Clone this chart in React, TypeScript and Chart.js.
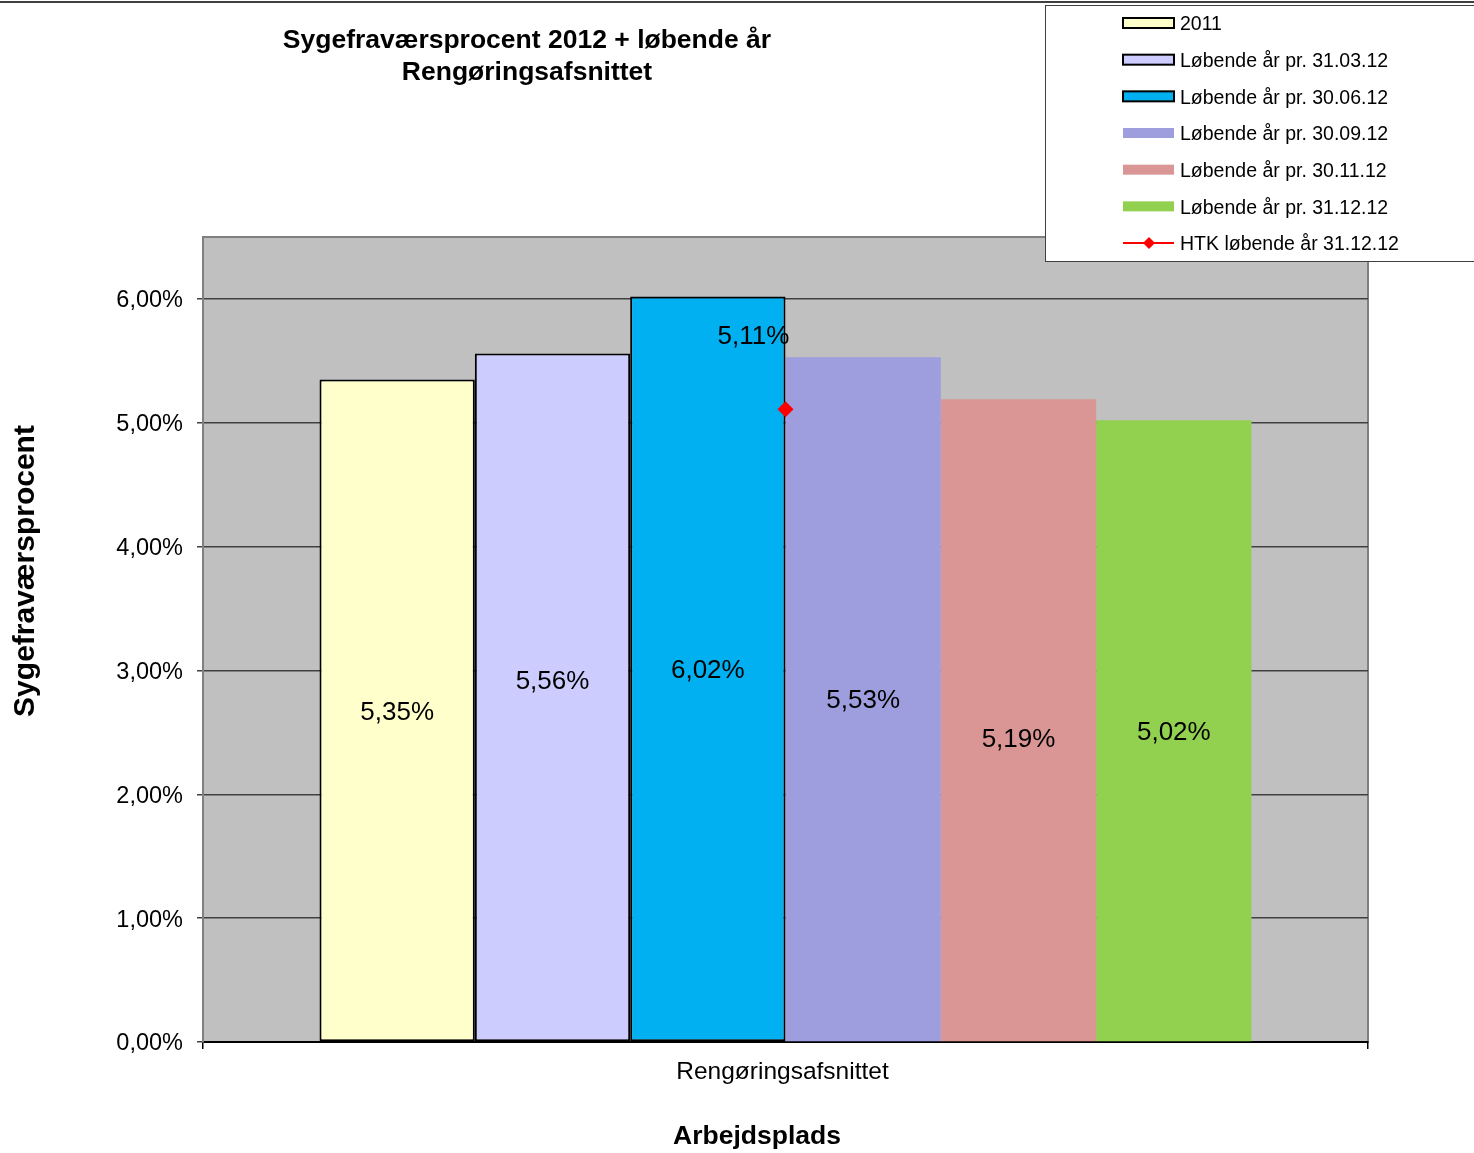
import React, { useEffect, useRef } from "react";
import { Chart, registerables } from "chart.js";

Chart.register(...registerables);

const chartTitle = ["Sygefraværsprocent 2012 + løbende år", "Rengøringsafsnittet"];
const xAxisTitle = "Arbejdsplads";
const yAxisTitle = "Sygefraværsprocent";
const categories = ["Rengøringsafsnittet"];
const barSeriesNames = [
  "2011",
  "Løbende år pr. 31.03.12",
  "Løbende år pr. 30.06.12",
  "Løbende år pr. 30.09.12",
  "Løbende år pr. 30.11.12",
  "Løbende år pr. 31.12.12",
];
const barValues = [5.35, 5.56, 6.02, 5.53, 5.19, 5.02];
const barColors = ["#FFFFCC", "#CCCCFF", "#00B0F0", "#9E9EDE", "#D99694", "#92D050"];
const barOutlined = [true, true, true, false, false, false];
const labelShiftY = [0, -18, 0, 0, 18, 0];
const htkName = "HTK løbende år 31.12.12";
const htkValues = [5.11];
const htkColor = "#FF0000";
const yTickValues = [0, 1, 2, 3, 4, 5, 6];
const yMax = 6.5;

const FONT = "'Liberation Sans', Arial, sans-serif";
const fmt = (v: number) => v.toFixed(2).replace(".", ",") + "%";

export default function App() {
  const ref = useRef<HTMLCanvasElement | null>(null);

  useEffect(() => {
    if (!ref.current) return;

    const decor = {
      id: "decor",
      beforeDraw(chart: any) {
        const { ctx, chartArea: a } = chart;
        ctx.save();
        ctx.fillStyle = "#FFFFFF";
        ctx.fillRect(0, 0, chart.width, chart.height);
        ctx.fillStyle = "#C0C0C0";
        ctx.fillRect(a.left, a.top, a.right - a.left, a.bottom - a.top);
        ctx.strokeStyle = "#808080";
        ctx.lineWidth = 2;
        ctx.strokeRect(a.left, a.top, a.right - a.left, a.bottom - a.top);
        ctx.restore();
      },
      afterDraw(chart: any) {
        const { ctx } = chart;
        ctx.save();
        // top rule
        ctx.strokeStyle = "#000";
        ctx.lineWidth = 1.5;
        ctx.beginPath();
        ctx.moveTo(0, 2);
        ctx.lineTo(chart.width, 2);
        ctx.stroke();

        // bar data labels
        ctx.fillStyle = "#000";
        ctx.font = `26px ${FONT}`;
        ctx.textAlign = "center";
        ctx.textBaseline = "middle";
        barSeriesNames.forEach((_, i) => {
          const meta = chart.getDatasetMeta(i);
          const el = meta.data[0];
          if (!el) return;
          const y = (el.y + el.base) / 2 + labelShiftY[i] + 2;
          ctx.fillText(fmt(barValues[i]), el.x, y);
        });
        // line label
        const lm = chart.getDatasetMeta(barSeriesNames.length);
        const p = lm.data[0];
        if (p) ctx.fillText(fmt(htkValues[0]), p.x - 32, p.y - 72);

        // chart title
        ctx.font = `bold 26.5px ${FONT}`;
        ctx.fillText(chartTitle[0], 527, 41);
        ctx.fillText(chartTitle[1], 527, 73);
        // x title
        ctx.fillText(xAxisTitle, 757, 1137);
        // y title
        ctx.save();
        ctx.translate(26, 571);
        ctx.rotate(-Math.PI / 2);
        ctx.font = `bold 30px ${FONT}`;
        ctx.fillText(yAxisTitle, 0, 0);
        ctx.restore();

        // legend
        ctx.fillStyle = "#FFFFFF";
        ctx.fillRect(1045, 5, 440, 256);
        ctx.strokeStyle = "#404040";
        ctx.lineWidth = 1;
        ctx.strokeRect(1045.5, 5.5, 440, 256);
        ctx.font = `19.5px ${FONT}`;
        ctx.textAlign = "left";
        const names = [...barSeriesNames, htkName];
        names.forEach((n, i) => {
          const cy = 23 + i * 36.67;
          if (i < barSeriesNames.length) {
            ctx.fillStyle = barColors[i];
            ctx.fillRect(1123, cy - 5, 51, 10);
            if (barOutlined[i]) {
              ctx.strokeStyle = "#000";
              ctx.lineWidth = 2;
              ctx.strokeRect(1123, cy - 5, 51, 10);
            }
          } else {
            ctx.strokeStyle = htkColor;
            ctx.lineWidth = 2;
            ctx.beginPath();
            ctx.moveTo(1123, cy);
            ctx.lineTo(1174, cy);
            ctx.stroke();
            ctx.fillStyle = htkColor;
            ctx.beginPath();
            ctx.moveTo(1149, cy - 6);
            ctx.lineTo(1155, cy);
            ctx.lineTo(1149, cy + 6);
            ctx.lineTo(1143, cy);
            ctx.closePath();
            ctx.fill();
          }
          ctx.fillStyle = "#000";
          ctx.fillText(n, 1180, cy + 2);
        });
        ctx.restore();
      },
    };

    const datasets: any[] = barSeriesNames.map((name, i) => ({
      type: "bar",
      label: name,
      data: [barValues[i]],
      backgroundColor: barColors[i],
      borderColor: barOutlined[i] ? "#000000" : barColors[i],
      borderWidth: barOutlined[i] ? 2 : 0,
      borderSkipped: false,
      categoryPercentage: 0.8,
      barPercentage: 1,
      order: 1,
    }));
    datasets.push({
      type: "line",
      label: htkName,
      data: htkValues,
      borderColor: htkColor,
      backgroundColor: htkColor,
      pointStyle: "rectRot",
      pointRadius: 8,
      pointBorderWidth: 0,
      borderWidth: 2,
      order: 0,
    });

    const chart = new Chart(ref.current, {
      type: "bar",
      data: { labels: categories, datasets },
      plugins: [decor],
      options: {
        responsive: false,
        animation: false,
        devicePixelRatio: 1,
        layout: { padding: { top: 237, right: 106, left: 0, bottom: 0 } },
        plugins: {
          legend: { display: false },
          tooltip: { enabled: false },
          title: { display: false },
        },
        scales: {
          x: {
            offset: true,
            grid: {
              display: true,
              drawOnChartArea: false,
              offset: true,
              tickLength: 7,
              color: "#000",
              lineWidth: 1.5,
            },
            border: { display: true, color: "#000", width: 2 },
            ticks: {
              color: "#000",
              font: { family: FONT, size: 24.5 },
              padding: 9,
              labelOffset: -3,
            },
            afterFit: (s: any) => {
              s.height = 111;
            },
          },
          y: {
            min: 0,
            max: yMax,
            afterBuildTicks: (s: any) => {
              s.ticks = yTickValues.map((v) => ({ value: v }));
            },
            afterFit: (s: any) => {
              s.width = 203;
            },
            grid: {
              color: "#404040",
              lineWidth: 1.5,
              tickLength: 6,
            },
            border: { display: true, color: "#808080", width: 2 },
            ticks: {
              color: "#000",
              font: { family: FONT, size: 23.5 },
              padding: 14,
              labelOffset: 2,
              callback: (v: any) => fmt(Number(v)),
            },
          },
        },
      },
    });
    return () => chart.destroy();
  }, []);

  return (
    <div style={{ position: "absolute", left: 0, top: 0, width: 1474, height: 1153, background: "#fff" }}>
      <canvas ref={ref} width={1474} height={1153} style={{ display: "block" }} />
    </div>
  );
}
